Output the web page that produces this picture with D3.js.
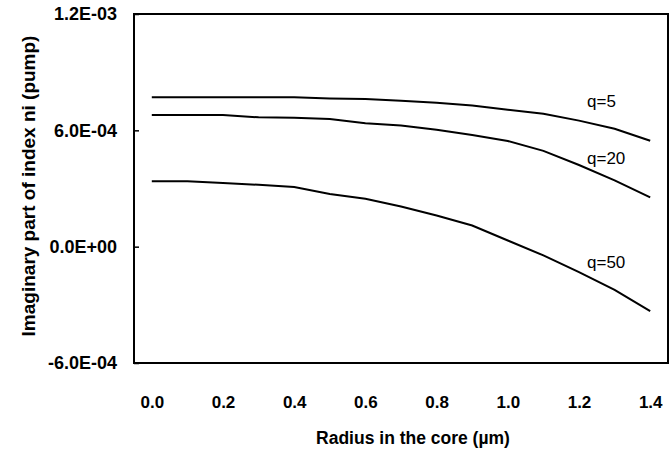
<!DOCTYPE html>
<html>
<head>
<meta charset="utf-8">
<script src="https://cdn.jsdelivr.net/npm/d3@7"></script>
<style>
  html, body { margin: 0; padding: 0; background: #fff; }
  svg { display: block; font-family: "Liberation Sans", Arial, sans-serif; }
</style>
</head>
<body>
<svg id="chart" width="672" height="454"></svg>
<script>
// radius categories (µm), one point every 0.1
const radius = ["0.0", "0.1", "0.2", "0.3", "0.4", "0.5", "0.6", "0.7", "0.8", "0.9", "1.0", "1.1", "1.2", "1.3", "1.4"];
const xTickLabels = ["0.0", "0.2", "0.4", "0.6", "0.8", "1.0", "1.2", "1.4"];
const yTicks = [-6e-4, 0, 6e-4, 1.2e-3];

// imaginary part of index ni
const q5 = [7.70e-4, 7.70e-4, 7.70e-4, 7.70e-4, 7.70e-4, 7.64e-4, 7.62e-4, 7.52e-4, 7.42e-4, 7.28e-4, 7.06e-4, 6.86e-4, 6.50e-4, 6.08e-4, 5.46e-4];
const q20 = [6.79e-4, 6.79e-4, 6.79e-4, 6.67e-4, 6.65e-4, 6.59e-4, 6.36e-4, 6.25e-4, 6.03e-4, 5.76e-4, 5.45e-4, 4.94e-4, 4.21e-4, 3.42e-4, 2.54e-4];
const q50 = [3.37e-4, 3.37e-4, 3.29e-4, 3.19e-4, 3.08e-4, 2.72e-4, 2.47e-4, 2.07e-4, 1.61e-4, 1.09e-4, 0.32e-4, -0.45e-4, -1.31e-4, -2.23e-4, -3.32e-4];

const seriesNames = ["q=5", "q=20", "q=50"];
const seriesValues = [q5, q20, q50];
// where each curve label sits (category, value of its baseline)
const labelCats = ["1.2", "1.2", "1.2"];
const labelValues = [7.2e-4, 4.27e-4, -1.10e-4];

const svg = d3.select("#chart");
const plot = { left: 134, top: 14, right: 668, bottom: 363 };

const x = d3.scalePoint()
  .domain(radius)
  .range([plot.left, plot.right])
  .padding(0.5);

const y = d3.scaleLinear()
  .domain([-6e-4, 1.2e-3])
  .range([plot.bottom, plot.top]);

// Excel style "6.0E-04"
function sci(v) {
  if (v === 0) return "0.0E+00";
  const [m, e] = v.toExponential(1).split("e");
  const n = +e;
  return m + "E" + (n < 0 ? "-" : "+") + String(Math.abs(n)).padStart(2, "0");
}

// y axis, ticks pointing into the plot
const yAxis = svg.append("g")
  .attr("transform", `translate(${plot.left},0)`)
  .call(d3.axisLeft(y).tickValues(yTicks).tickFormat(sci).tickSizeInner(-5).tickSizeOuter(0).tickPadding(17));
yAxis.select(".domain").remove();
yAxis.selectAll("line").attr("stroke", "#000").attr("stroke-width", 1.5);
yAxis.selectAll("text")
  .attr("fill", "#000")
  .style("font-size", "18px")
  .style("font-weight", "bold");

// x axis labels only, every other category
const xAxis = svg.append("g")
  .attr("transform", `translate(0,${plot.bottom})`)
  .call(d3.axisBottom(x).tickValues(xTickLabels).tickSize(0).tickPadding(33));
xAxis.select(".domain").remove();
xAxis.selectAll("text")
  .attr("fill", "#000")
  .style("font-size", "17px")
  .style("font-weight", "bold");

// plot frame
svg.append("rect")
  .attr("x", plot.left)
  .attr("y", plot.top)
  .attr("width", plot.right - plot.left)
  .attr("height", plot.bottom - plot.top)
  .attr("fill", "none")
  .attr("stroke", "#000")
  .attr("stroke-width", 2);

const line = d3.line()
  .x((d, i) => x(radius[i]))
  .y(d => y(d));

svg.append("g")
  .selectAll("path")
  .data(seriesValues)
  .join("path")
  .attr("d", line)
  .attr("fill", "none")
  .attr("stroke", "#000")
  .attr("stroke-width", 2);

svg.append("g")
  .selectAll("text")
  .data(seriesNames)
  .join("text")
  .attr("x", (d, i) => x(labelCats[i]) + 8)
  .attr("y", (d, i) => y(labelValues[i]))
  .attr("fill", "#000")
  .style("font-size", "17px")
  .text(d => d);

// axis titles
svg.append("text")
  .attr("x", 413)
  .attr("y", 444)
  .attr("text-anchor", "middle")
  .attr("fill", "#000")
  .style("font-size", "17.5px")
  .style("font-weight", "bold")
  .text("Radius in the core (µm)");

svg.append("text")
  .attr("transform", `translate(35,186) rotate(-90)`)
  .attr("text-anchor", "middle")
  .attr("fill", "#000")
  .style("font-size", "19px")
  .style("font-weight", "bold")
  .text("Imaginary part of index ni (pump)");
</script>
</body>
</html>
